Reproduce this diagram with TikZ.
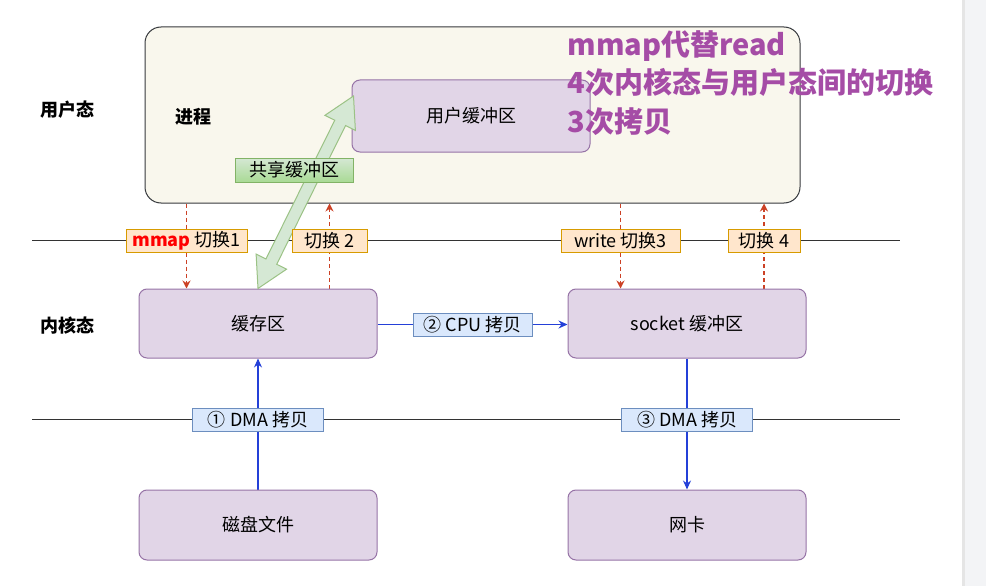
\documentclass[tikz,border=0pt]{standalone}
\usepackage{fontspec}
\setmainfont{Noto Sans CJK SC}
\usepackage{tikz}
\usetikzlibrary{arrows.meta}
\usetikzlibrary{backgrounds}
\usetikzlibrary{calc}
\definecolor{procfill}{HTML}{F9F7ED}
\definecolor{procdraw}{HTML}{36393D}
\definecolor{buffill}{HTML}{E1D5E7}
\definecolor{bufdraw}{HTML}{9673A6}
\definecolor{swfill}{HTML}{FFE6CC}
\definecolor{swdraw}{HTML}{D79B00}
\definecolor{cpfill}{HTML}{DAE8FC}
\definecolor{cpdraw}{HTML}{6C8EBF}
\definecolor{grfill}{HTML}{D5E8D4}
\definecolor{grdark}{HTML}{A9DA95}
\definecolor{grdraw}{HTML}{82B366}
\definecolor{swred}{HTML}{CC4125}
\definecolor{cpblue}{HTML}{2440D8}
\definecolor{titlec}{HTML}{A54CA6}
\definecolor{strip}{HTML}{F3F4F6}

\begin{document}
\begin{tikzpicture}
[x=1pt,y=-1pt,font=\fontsize{18}{21}\selectfont,
proc/.style={rectangle,rounded corners=16pt,draw=procdraw,fill=procfill,line width=1pt},
buf/.style={rectangle,rounded corners=8pt,draw=bufdraw,fill=buffill,line width=1pt,minimum width=238pt},
sw/.style={rectangle,draw=swdraw,fill=swfill,line width=1pt,inner sep=0pt,minimum height=23pt},
cp/.style={rectangle,draw=cpdraw,fill=cpfill,line width=1pt,inner sep=0pt,minimum height=23pt},
share/.style={rectangle,draw=grdraw,top color=grfill,bottom color=grdark,line width=1pt,inner sep=0pt,minimum height=24pt},
tag/.style={font=\fontsize{18}{21}\selectfont\bfseries},
swarr/.style={-{Stealth[length=8pt,width=8pt]},dash pattern=on 4pt off 3pt,draw=swred,line width=1.2pt},
cparr/.style={-{Stealth[length=9pt,width=8pt]},draw=cpblue,line width=1.2pt}]

\useasboundingbox (0,0) rectangle (986,586);
\fill[strip] (962,0) rectangle (986,586);
\fill[black!10] (962,0) rectangle (965,586);

% user space
\node at (472.5,115) [proc,minimum width=655pt,minimum height=176pt] (proc) {};
\node at (193,117) [tag] (pname) {进程};
\node at (471,116) [buf,minimum height=72pt] (ubuf) {用户缓冲区};
\node at (67,110) [tag] (user) {用户态};
\node at (67,326) [tag] (kern) {内核态};

% kernel and devices
\node at (258,323.5) [buf,minimum height=69pt] (cache) {缓存区};
\node at (687,323.5) [buf,minimum height=69pt] (sock)  {socket 缓冲区};
\node at (258,525)   [buf,minimum height=70pt] (disk)  {磁盘文件};
\node at (687,525)   [buf,minimum height=70pt] (nic)   {网卡};

% shared buffer arrow
\coordinate (gA) at (cache.north);
\coordinate (gB) at ($(ubuf.west)+(2,-20)$);
\coordinate (gA1) at ($(gA)!30pt!(gB)$);
\coordinate (gB1) at ($(gB)!30pt!(gA)$);
\filldraw[fill=grfill,draw=grdraw!80,line width=1pt,line join=miter]
  (gA) -- ($(gA1)!17pt!90:(gB)$) -- ($(gA1)!6pt!90:(gB)$)
  -- ($(gB1)!6pt!-90:(gA)$) -- ($(gB1)!17pt!-90:(gA)$) -- (gB)
  -- ($(gB1)!17pt!90:(gA)$) -- ($(gB1)!6pt!90:(gA)$)
  -- ($(gA1)!6pt!-90:(gB)$) -- ($(gA1)!17pt!-90:(gB)$) -- cycle;
\node at (294,170) [share,minimum width=118pt] (shr) {共享缓冲区};

% switch labels
\node at (186.5,240.5) [sw,minimum width=121pt] (sw1) {\textcolor{red}{\bfseries mmap} 切换1};
\node at (329.5,240.5) [sw,minimum width=75pt]  (sw2) {切换 2};
\node at (620.5,240.5) [sw,minimum width=119pt] (sw3) {write 切换3};
\node at (764,240.5)   [sw,minimum width=72pt]  (sw4) {切换 4};

% copy labels
\node at (472.5,324.5) [cp,minimum width=119pt] (cpu)  {② CPU 拷贝};
\node at (258,419.5)   [cp,minimum width=131pt] (dma1) {① DMA 拷贝};
\node at (687,419.5)   [cp,minimum width=131pt] (dma3) {③ DMA 拷贝};

\node at (564,83) [anchor=west,align=left,text=titlec,
  font=\fontsize{29}{38.5}\selectfont\bfseries] (title)
  {mmap代替read\\4次内核态与用户态间的切换\\3次拷贝};

\begin{scope}[on background layer]
\coordinate (l1w) at (32,240);  \coordinate (l1e) at (900,240);
\coordinate (l2w) at (32,419);  \coordinate (l2e) at (900,419);
\draw [line width=1pt,draw=black!80] (l1w) -- (l1e);
\draw [line width=1pt,draw=black!80] (l2w) -- (l2e);
\draw [swarr] (sw1 |- proc.south) -- (sw1 |- cache.north);
\draw [swarr] (sw2 |- cache.north) -- (sw2 |- proc.south);
\draw [swarr] (sw3 |- proc.south) -- (sw3 |- sock.north);
\draw [swarr] (sw4 |- sock.north) -- (sw4 |- proc.south);
\draw [cparr] (cache.east |- cpu) -- (sock.west |- cpu);
\draw [cparr] (disk.north) -- (cache.south);
\draw [cparr] (sock.south) -- (nic.north);
\end{scope}
\end{tikzpicture}
\end{document}
